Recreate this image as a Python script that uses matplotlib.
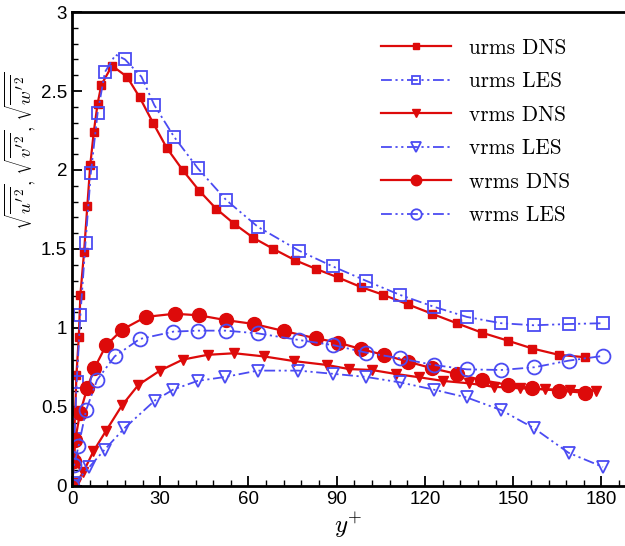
import numpy as np
import matplotlib
matplotlib.use("Agg")
import matplotlib.pyplot as plt
from matplotlib.ticker import MultipleLocator

plt.rcParams['font.family'] = ['Liberation Sans', 'DejaVu Sans']
plt.rcParams['mathtext.fontset'] = 'cm'

# urms
u_dns_y = [0.0, 0.3, 0.7, 1.1, 1.5, 2.3, 2.85, 4.1, 5.2, 6.2, 7.4, 8.7, 10.0, 13.6, 18.7, 23.0, 27.5,
           32.2, 37.6, 43.2, 49.0, 55.1, 61.7, 68.5, 75.7, 82.8, 90.4, 98.1, 105.8, 114.1, 122.4,
           130.8, 139.4, 148.1, 156.5, 165.5, 174.3]
u_dns = [0.0, 0.18, 0.31, 0.48, 0.70, 0.94, 1.21, 1.48, 1.77, 2.03, 2.24, 2.42, 2.54, 2.66, 2.59, 2.46,
         2.30, 2.14, 2.00, 1.87, 1.755, 1.66, 1.57, 1.50, 1.43, 1.375, 1.32, 1.26, 1.21, 1.15, 1.09,
         1.03, 0.97, 0.92, 0.87, 0.83, 0.815]
u_les_y = [0.0, 0.8, 1.6, 2.85, 4.6, 6.4, 8.7, 11.2, 14.8, 18.0, 23.6, 28.0, 34.7, 42.8, 52.4, 63.2,
           77.1, 88.6, 99.8, 111.4, 122.9, 134.2, 145.9, 157.1, 168.8, 180.5]
u_les = [0.0, 0.30, 0.66, 1.08, 1.54, 1.98, 2.36, 2.62, 2.73, 2.70, 2.59, 2.41, 2.21, 2.01, 1.81, 1.64,
         1.49, 1.39, 1.30, 1.21, 1.135, 1.07, 1.03, 1.017, 1.025, 1.03]

# vrms
v_dns_y = [0.0, 1.5, 3.9, 7.3, 11.6, 17.0, 22.6, 29.9, 37.7, 46.1, 55.2, 65.2, 75.6, 86.6, 94.1,
           101.9, 110.0, 118.0, 126.0, 134.8, 143.4, 152.3, 160.7, 169.4, 178.3]
v_dns = [0.0, 0.02, 0.09, 0.22, 0.35, 0.51, 0.64, 0.73, 0.80, 0.83, 0.84, 0.82, 0.79, 0.766, 0.74,
         0.734, 0.709, 0.688, 0.665, 0.65, 0.628, 0.618, 0.612, 0.608, 0.603]
v_les_y = [0.0, 1.0, 5.9, 11.1, 17.8, 28.1, 34.4, 42.7, 52.1, 63.1, 77.0, 88.6, 100.0, 111.4, 122.9,
           134.2, 145.9, 157.1, 168.8, 180.5]
v_les = [0.0, 0.017, 0.12, 0.23, 0.365, 0.54, 0.61, 0.665, 0.69, 0.73, 0.73, 0.71, 0.69, 0.656, 0.61,
         0.56, 0.48, 0.365, 0.21, 0.12]

# wrms
w_dns_y = [0.0, 0.7, 1.1, 2.7, 5.2, 7.6, 11.6, 17.1, 25.1, 34.9, 43.2, 52.2, 61.9, 72.2, 82.8, 90.6,
           98.1, 106.0, 114.1, 122.4, 130.8, 139.4, 148.1, 156.5, 165.5, 174.3]
w_dns = [0.0, 0.155, 0.29, 0.46, 0.62, 0.745, 0.89, 0.99, 1.07, 1.09, 1.08, 1.05, 1.025, 0.98, 0.935,
         0.907, 0.867, 0.83, 0.787, 0.745, 0.709, 0.67, 0.64, 0.618, 0.603, 0.59]
w_les_y = [0.0, 0.7, 2.2, 4.8, 8.5, 14.5, 23.0, 34.5, 42.9, 52.2, 63.1, 77.1, 88.6, 100.0, 111.4,
           122.9, 134.2, 145.9, 157.1, 168.8, 180.5]
w_les = [0.0, 0.13, 0.25, 0.48, 0.67, 0.82, 0.93, 0.977, 0.983, 0.983, 0.966, 0.924, 0.892, 0.844,
         0.808, 0.766, 0.738, 0.734, 0.751, 0.793, 0.823]

red = '#dd0a0a'
blue = '#4b4bf2'
dashdotdot = (0, (6, 2, 1.2, 2, 1.2, 2))

fig = plt.figure(figsize=(6.25, 5.46), dpi=100)
ax = fig.add_axes([0.1152, 0.110, 0.8848, 0.868])

ax.plot(u_dns_y, u_dns, color=red, lw=1.6, marker='s', ms=6, label='urms DNS')
ax.plot(u_les_y, u_les, color=blue, lw=1.3, ls=dashdotdot, marker='s', ms=8, mfc='none', mew=1.3,
        markevery=[i for i in range(len(u_les)) if i != 8], label='urms LES')
ax.plot(v_dns_y, v_dns, color=red, lw=1.6, marker='v', ms=7, label='vrms DNS')
ax.plot(v_les_y, v_les, color=blue, lw=1.3, ls=dashdotdot, marker='v', ms=9, mfc='none', mew=1.3,
        label='vrms LES')
ax.plot(w_dns_y, w_dns, color=red, lw=1.6, marker='o', ms=10, label='wrms DNS')
ax.plot(w_les_y, w_les, color=blue, lw=1.3, ls=dashdotdot, marker='o', ms=10, mfc='none', mew=1.3,
        label='wrms LES')

ax.set_xlim(0, 188)
ax.set_ylim(0, 3)
ax.xaxis.set_major_locator(MultipleLocator(30))
ax.xaxis.set_minor_locator(MultipleLocator(6))
ax.yaxis.set_major_locator(MultipleLocator(0.5))
ax.yaxis.set_minor_locator(MultipleLocator(0.1))
ax.yaxis.set_major_formatter(plt.FuncFormatter(lambda v, p: f'{v:g}'))
ax.tick_params(which='both', direction='in', top=False, right=False, labelsize=13.5)
ax.tick_params(which='major', length=7, width=1.3)
ax.tick_params(which='minor', length=4, width=1.0)
for side in ['left', 'bottom', 'top']:
    ax.spines[side].set_linewidth(2)
ax.spines['right'].set_visible(False)

ax.set_xlabel(r'$y^{+}$', fontsize=18, labelpad=2)
ax.set_ylabel(r"$\sqrt{\overline{u'^2}},\,\sqrt{\overline{v'^2}},\,\sqrt{\overline{w'^2}}$",
              fontsize=13.5)
ax.yaxis.set_label_coords(-0.062, 0.707)

leg = ax.legend(loc='upper right', bbox_to_anchor=(0.935, 0.985), frameon=False, handlelength=3.3,
                labelspacing=0.66, handletextpad=0.85, markerscale=0.75,
                prop={'family': 'cmr10', 'size': 15.3})

fig.savefig('out.png', dpi=100)
